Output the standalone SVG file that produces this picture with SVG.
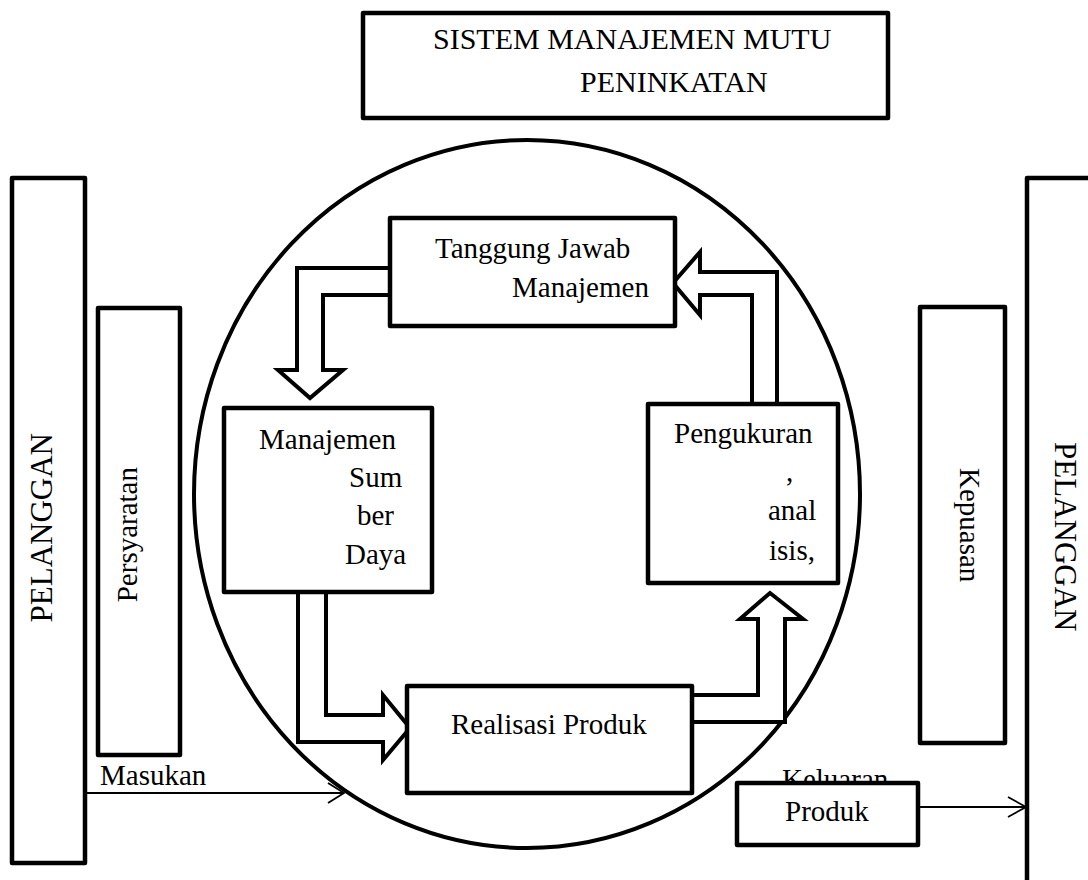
<svg xmlns="http://www.w3.org/2000/svg" width="1088" height="880" viewBox="0 0 1088 880">
<style>
.box{fill:#fff;stroke:#000;stroke-width:4.5;stroke-linejoin:round}
.blk{fill:#fff;stroke:#000;stroke-width:4;stroke-linejoin:miter}
.thin{fill:none;stroke:#000;stroke-width:1.8}
text{font-family:"Liberation Serif","Times New Roman",serif;font-size:29px;fill:#000}
text.t30{font-size:30px}
text.t31{font-size:31px}
</style>
<rect width="1088" height="880" fill="#fff"/>
<g id="circle"><ellipse cx="527" cy="494" rx="333" ry="354" fill="none" stroke="#000" stroke-width="4"/></g>
<g id="title"><rect class="box" x="363" y="13" width="525" height="105"/>
<text class="t30" x="433" y="49">SISTEM MANAJEMEN MUTU</text><text class="t30" x="580" y="92">PENINKATAN</text></g>
<g id="pelanggan-left"><rect class="box" x="12" y="178" width="73" height="685"/>
<text class="t31" transform="rotate(-90 52 433)" x="52" y="433" text-anchor="end">PELANGGAN</text></g>
<g id="persyaratan"><rect class="box" x="98" y="308" width="82" height="447"/>
<text transform="rotate(-90 137 467)" x="137" y="467" text-anchor="end">Persyaratan</text></g>
<g id="kepuasan"><rect class="box" x="920" y="307" width="85" height="436"/>
<text transform="rotate(90 960 468)" x="960" y="468">Kepuasan</text></g>
<g id="pelanggan-right"><rect class="box" x="1027" y="178" width="100" height="760"/>
<text class="t31" transform="rotate(90 1055 442)" x="1055" y="442">PELANGGAN</text></g>
<g id="connectors">
<path class="blk" d="M390,268 L297,268 L297,370 L278,370 L310,398 L343,370 L323,370 L323,295 L390,295"/>
<path class="blk" d="M298,592 L298,742 L383,742 L383,760 L410,728 L383,695 L383,715 L326,715 L326,592"/>
<path class="blk" d="M692,695 L758,695 L758,619 L740,619 L770,593 L803,619 L785,619 L785,722 L692,722"/>
<path class="blk" d="M752,404 L752,295 L700,295 L700,315 L673,283 L700,252 L700,272 L777,272 L777,404"/>
<path class="thin" d="M85,793 L344,793 M328,783 L344,793 L328,803"/>
<path class="thin" d="M918,807 L1026,807 M1008,797 L1026,807 L1008,817"/>
</g>
<g id="tanggung-jawab"><rect class="box" x="390" y="218" width="285" height="108"/>
<text x="435" y="258">Tanggung Jawab</text><text x="512" y="297">Manajemen</text></g>
<g id="sumber-daya"><rect class="box" x="224" y="408" width="208" height="184"/>
<text x="259" y="449">Manajemen</text><text x="349" y="487">Sum</text><text x="357" y="525">ber</text><text x="345" y="564">Daya</text></g>
<g id="pengukuran"><rect class="box" x="648" y="404" width="190" height="179"/>
<text x="674" y="443">Pengukuran</text><text x="786" y="481">,</text><text x="768" y="520">anal</text><text x="769" y="560">isis,</text></g>
<g id="realisasi"><rect class="box" x="407" y="686" width="285" height="107"/>
<text x="451" y="734">Realisasi Produk</text></g>
<g id="masukan"><text x="100" y="785">Masukan</text></g>
<g id="keluaran"><text x="782" y="789">Keluaran</text>
<rect class="box" x="737" y="783" width="181" height="62"/>
<text x="785" y="821">Produk</text></g>
</svg>
